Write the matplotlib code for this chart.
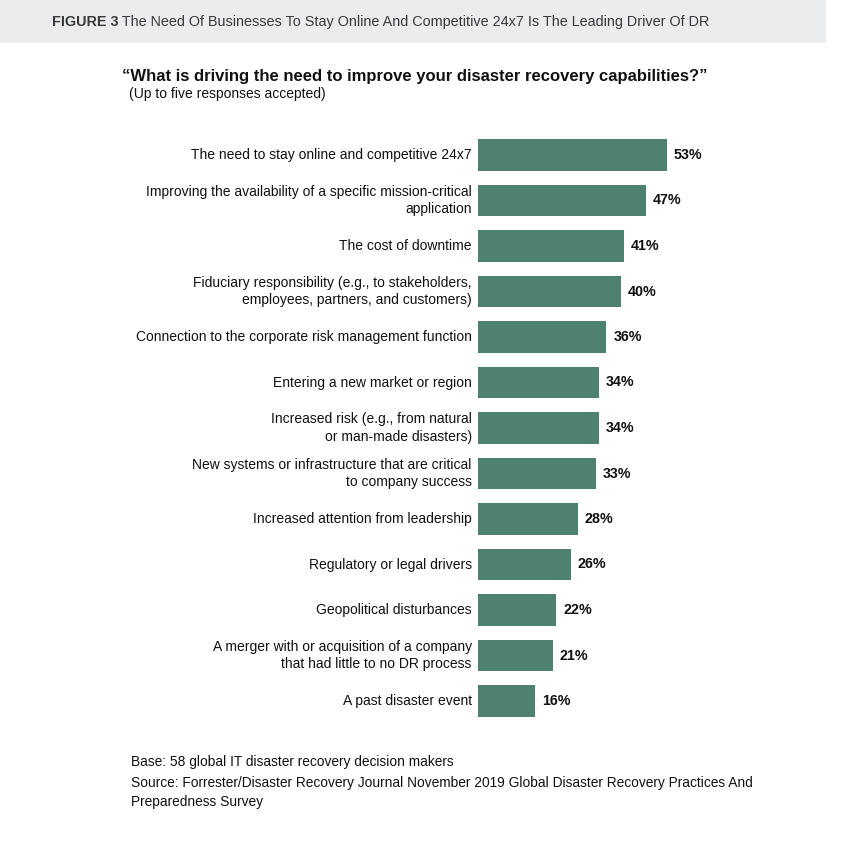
import matplotlib
matplotlib.use("Agg")
import matplotlib.pyplot as plt
from matplotlib.patches import Rectangle

plt.rcParams['font.family'] = ['Liberation Sans', 'DejaVu Sans']

categories = [
    "The need to stay online and competitive 24x7",
    "Improving the availability of a specific mission-critical\napplication",
    "The cost of downtime",
    "Fiduciary responsibility (e.g., to stakeholders,\nemployees, partners, and customers)",
    "Connection to the corporate risk management function",
    "Entering a new market or region",
    "Increased risk (e.g., from natural\nor man-made disasters)",
    "New systems or infrastructure that are critical\nto company success",
    "Increased attention from leadership",
    "Regulatory or legal drivers",
    "Geopolitical disturbances",
    "A merger with or acquisition of a company\nthat had little to no DR process",
    "A past disaster event",
]
values = [53, 47, 41, 40, 36, 34, 34, 33, 28, 26, 22, 21, 16]

header_bold = "FIGURE 3"
header_rest = " The Need Of Businesses To Stay Online And Competitive 24x7 Is The Leading Driver Of DR"
title = "\u201cWhat is driving the need to improve your disaster recovery capabilities?\u201d"
subtitle = "(Up to five responses accepted)"
footer = [
    "Base: 58 global IT disaster recovery decision makers",
    "Source: Forrester/Disaster Recovery Journal November 2019 Global Disaster Recovery Practices And\nPreparedness Survey",
]

W, H = 868, 866
fig = plt.figure(figsize=(W / 100, H / 100), dpi=100)
fig.patch.set_facecolor("white")

def fx(px):
    return px / W

def fy(py):
    return 1 - py / H

# header band
fig.patches.append(Rectangle((0, fy(43)), fx(826), 43 / H, transform=fig.transFigure,
                             facecolor="#ebeced", edgecolor="none", zorder=0))
t1 = fig.text(fx(52), fy(22), header_bold, fontsize=10.4, fontweight="bold",
              color="#3a3a3a", va="center", ha="left")
fig.canvas.draw()
r = fig.canvas.get_renderer()
bb = t1.get_window_extent(r)
fig.text(bb.x1 / W, fy(22), header_rest, fontsize=10.4, color="#3a3a3a",
         va="center", ha="left")

fig.text(fx(122), fy(76), title, fontsize=12, fontweight="bold", color="#111111",
         va="center", ha="left")
fig.text(fx(129), fy(94), subtitle, fontsize=10, color="#111111", va="center", ha="left")

# axes
px_per_pct = 189 / 53
left_px = 478
width_px = 100 * px_per_pct
spacing = (701 - 155) / 12
top_px = 155 - spacing / 2
bot_px = 701 + spacing / 2
ax = fig.add_axes([fx(left_px), fy(bot_px), fx(width_px), (bot_px - top_px) / H])
ypos = list(range(len(categories)))
ax.barh(ypos, values, height=0.69, color="#4f8170", left=0)
ax.set_xlim(0, 100)
ax.set_ylim(len(categories) - 0.5, -0.5)
ax.set_yticks(ypos)
ax.set_yticklabels(categories, fontsize=10, color="#111111", ha="right", va="center",
                   multialignment="right", linespacing=1.3)
ax.tick_params(axis="y", length=0, pad=4.5)
ax.set_xticks([])
for s in ax.spines.values():
    s.set_visible(False)
ax.patch.set_alpha(0)
for y, v in zip(ypos, values):
    ax.annotate(f"{v}%", (v, y), xytext=(5, 0), textcoords="offset points",
                va="center", ha="left", fontsize=10.3, fontweight="bold", color="#111111")

fig.text(fx(131), fy(762), footer[0], fontsize=9.9, color="#111111", va="center", ha="left")
fig.text(fx(131), fy(776), footer[1], fontsize=9.9, color="#111111", va="top", ha="left",
         linespacing=1.45)

fig.savefig("out.png", dpi=100)
